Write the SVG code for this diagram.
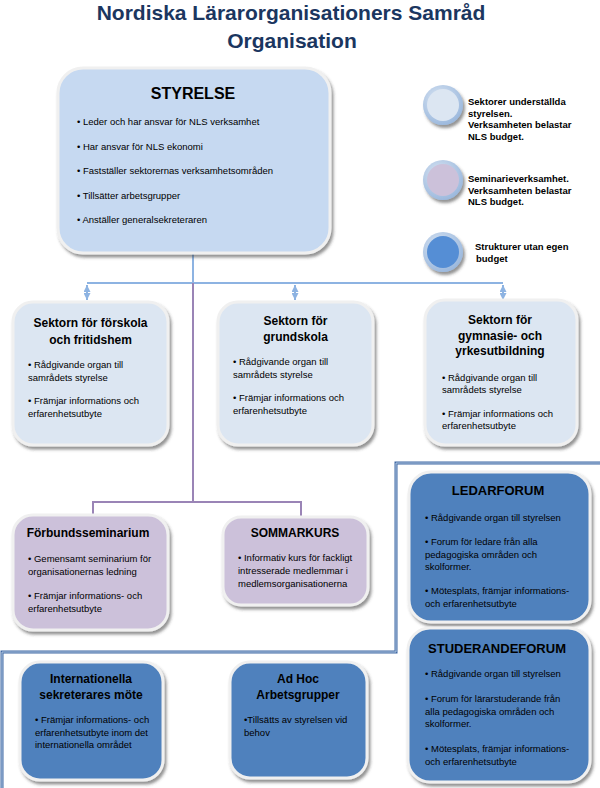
<svg xmlns="http://www.w3.org/2000/svg" width="600" height="788" viewBox="0 0 600 788">
<defs>
<filter id="sh" x="-10%" y="-10%" width="130%" height="130%"><feDropShadow dx="2" dy="3" stdDeviation="1.4" flood-color="#3a3a3a" flood-opacity="0.55"/></filter>
<marker id="ah" viewBox="0 0 10 10" refX="10" refY="5" markerWidth="3.5" markerHeight="3.5" orient="auto-start-reverse"><path d="M0,0 L10,5 L0,10 z" fill="#8db3e2"/></marker>
<radialGradient id="ring" cx="40%" cy="35%" r="70%"><stop offset="0" stop-color="#dbe6f3"/><stop offset="1" stop-color="#98b6dc"/></radialGradient>
<style>
text{font-family:"Liberation Sans",Arial,sans-serif;fill:#000;font-size:9.5px}
.h{font-weight:bold;font-size:12px;text-anchor:middle}
.h13{font-weight:bold;font-size:13px;text-anchor:middle}
.lg{font-weight:bold;font-size:9.5px}
.ttl{font-size:21px;font-weight:bold;fill:#1b365f;text-anchor:middle}
.box{stroke:#f0f0f0;stroke-width:3;filter:url(#sh)}
.sty{fill:#c6d9f1}
.sec{fill:#dce6f2}
.sem{fill:#ccc1da}
.drk{fill:#4f81bd}
.bl{fill:none;stroke:#8db3e2;stroke-width:2}
.pu{fill:none;stroke:#9a84b6;stroke-width:2}
</style>
</defs>

<g id="title">
<text class="ttl" x="291" y="20">Nordiska Lärarorganisationers Samråd</text>
<text class="ttl" x="292" y="48">Organisation</text>
</g>

<g id="frame">
<path d="M600,463 H396 V652 H2 V788" fill="none" stroke="#3f68a4" stroke-width="3"/>
<path d="M600,463 H396 V652 H2 V788" fill="none" stroke="#b8cce4" stroke-width="1"/>
</g>

<g id="connectors">
<path class="bl" d="M193,253 V283"/>
<path class="bl" d="M87,283 H503"/>
<path class="bl" d="M87,285 V300" marker-start="url(#ah)" marker-end="url(#ah)"/>
<path class="bl" d="M295,285 V300" marker-start="url(#ah)" marker-end="url(#ah)"/>
<path class="bl" d="M503,285 V300" marker-start="url(#ah)" marker-end="url(#ah)"/>
<path class="pu" d="M193,283 V502"/>
<path class="pu" d="M93,515 V502 H301 V516"/>
</g>

<g id="styrelse">
<rect class="box sty" x="58" y="68" width="272" height="185" rx="25"/>
<text class="h" x="193" y="99" style="font-size:16px">STYRELSE</text>
<text x="77" y="125">• Leder och har ansvar för NLS verksamhet</text>
<text x="77" y="149.5">• Har ansvar för NLS ekonomi</text>
<text x="77" y="174">• Fastställer sektorernas verksamhetsområden</text>
<text x="77" y="198.5">• Tillsätter arbetsgrupper</text>
<text x="77" y="223">• Anställer generalsekreteraren</text>
</g>

<g id="legend">
<g id="legend1">
<circle cx="443" cy="105" r="20" fill="url(#ring)" filter="url(#sh)"/>
<circle cx="443" cy="105" r="16" fill="#dce6f2"/>
<text class="lg"><tspan x="468" y="105">Sektorer underställda</tspan><tspan x="468" y="116.5">styrelsen.</tspan><tspan x="468" y="128">Verksamheten belastar</tspan><tspan x="468" y="139.5">NLS budget.</tspan></text>
</g>
<g id="legend2">
<circle cx="443" cy="180" r="20" fill="url(#ring)" filter="url(#sh)"/>
<circle cx="443" cy="180" r="16" fill="#ccc1da"/>
<text class="lg"><tspan x="468" y="182">Seminarieverksamhet.</tspan><tspan x="468" y="193.5">Verksamheten belastar</tspan><tspan x="468" y="205">NLS budget.</tspan></text>
</g>
<g id="legend3">
<circle cx="443" cy="252" r="20" fill="url(#ring)" filter="url(#sh)"/>
<circle cx="443" cy="252" r="16" fill="#558ed5"/>
<text class="lg"><tspan x="475" y="250">Strukturer utan egen</tspan><tspan x="476" y="262">budget</tspan></text>
</g>
</g>

<g id="sektor-forskola">
<rect class="box sec" x="13" y="302" width="155" height="143" rx="20"/>
<text class="h"><tspan x="90.5" y="327">Sektorn för förskola</tspan><tspan x="90.5" y="343.5">och fritidshem</tspan></text>
<text><tspan x="28" y="367.5">• Rådgivande organ till</tspan><tspan x="28" y="380.5">samrådets styrelse</tspan><tspan x="28" y="404">• Främjar informations och</tspan><tspan x="28" y="417">erfarenhetsutbyte</tspan></text>
</g>

<g id="sektor-grundskola">
<rect class="box sec" x="218" y="302" width="155" height="143" rx="20"/>
<text class="h"><tspan x="295.5" y="325">Sektorn för</tspan><tspan x="295.5" y="341">grundskola</tspan></text>
<text><tspan x="233" y="364.5">• Rådgivande organ till</tspan><tspan x="233" y="377.5">samrådets styrelse</tspan><tspan x="233" y="401">• Främjar informations och</tspan><tspan x="233" y="414">erfarenhetsutbyte</tspan></text>
</g>

<g id="sektor-gymnasie">
<rect class="box sec" x="425" y="300" width="152" height="145" rx="20"/>
<text class="h"><tspan x="500" y="324">Sektorn för</tspan><tspan x="500" y="339.5">gymnasie- och</tspan><tspan x="500" y="355">yrkesutbildning</tspan></text>
<text><tspan x="442" y="380.5">• Rådgivande organ till</tspan><tspan x="442" y="392.5">samrådets styrelse</tspan><tspan x="442" y="417">• Främjar informations och</tspan><tspan x="442" y="429">erfarenhetsutbyte</tspan></text>
</g>

<g id="forbundsseminarium">
<rect class="box sem" x="13" y="515" width="155" height="115" rx="20"/>
<text class="h" x="88" y="537">Förbundsseminarium</text>
<text><tspan x="28" y="562">• Gemensamt seminarium för</tspan><tspan x="28" y="575">organisationernas ledning</tspan><tspan x="28" y="598.5">• Främjar informations- och</tspan><tspan x="28" y="611.5">erfarenhetsutbyte</tspan></text>
</g>

<g id="sommarkurs">
<rect class="box sem" x="223" y="517" width="145" height="88" rx="18"/>
<text class="h" x="295" y="537">SOMMARKURS</text>
<text><tspan x="238" y="561">• Informativ kurs för fackligt</tspan><tspan x="238" y="574">intresserade medlemmar i</tspan><tspan x="238" y="587">medlemsorganisationerna</tspan></text>
</g>

<g id="ledarforum">
<rect class="box drk" x="409" y="472" width="181" height="150" rx="22"/>
<text class="h13" x="498" y="495">LEDARFORUM</text>
<text><tspan x="425" y="521">• Rådgivande organ till styrelsen</tspan><tspan x="425" y="545">• Forum för ledare från alla</tspan><tspan x="425" y="557.5">pedagogiska områden och</tspan><tspan x="425" y="570">skolformer.</tspan><tspan x="425" y="594">• Mötesplats, främjar informations-</tspan><tspan x="425" y="606.5">och erfarenhetsutbyte</tspan></text>
</g>

<g id="studerandeforum">
<rect class="box drk" x="408" y="628" width="182" height="154" rx="22"/>
<text class="h13" x="497" y="653">STUDERANDEFORUM</text>
<text><tspan x="425" y="677">• Rådgivande organ till styrelsen</tspan><tspan x="425" y="702">• Forum för lärarstuderande från</tspan><tspan x="425" y="714.5">alla pedagogiska områden och</tspan><tspan x="425" y="727">skolformer.</tspan><tspan x="425" y="752">• Mötesplats, främjar informations-</tspan><tspan x="425" y="764.5">och erfarenhetsutbyte</tspan></text>
</g>

<g id="internationella">
<rect class="box drk" x="20" y="662" width="143" height="118" rx="20"/>
<text class="h"><tspan x="91" y="683">Internationella</tspan><tspan x="91" y="698.5">sekreterares möte</tspan></text>
<text><tspan x="35" y="723">• Främjar informations- och</tspan><tspan x="35" y="735.5">erfarenhetsutbyte inom det</tspan><tspan x="35" y="748">internationella området</tspan></text>
</g>

<g id="adhoc">
<rect class="box drk" x="230" y="662" width="137" height="116" rx="20"/>
<text class="h"><tspan x="298" y="683">Ad Hoc</tspan><tspan x="298" y="698.5">Arbetsgrupper</tspan></text>
<text><tspan x="244" y="723">•Tillsätts av styrelsen vid</tspan><tspan x="244" y="735.5">behov</tspan></text>
</g>
</svg>
